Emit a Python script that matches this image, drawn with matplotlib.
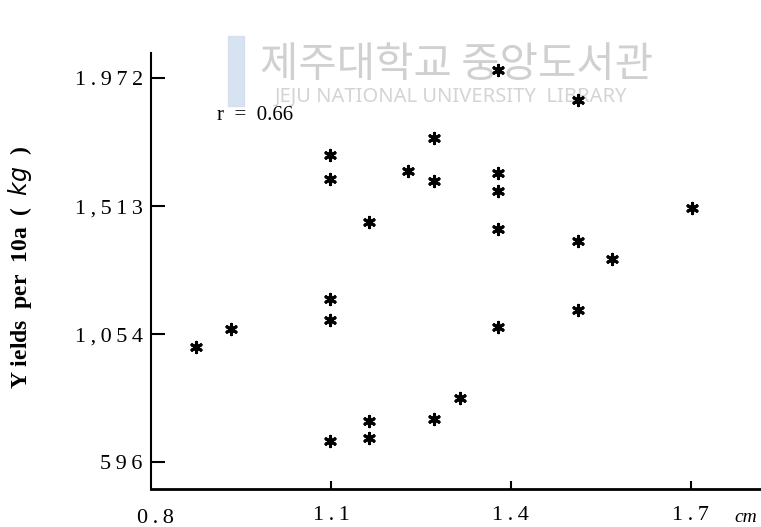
import numpy as np
import matplotlib.pyplot as plt
from matplotlib.patches import Rectangle

# stem diameter (cm) and yield per 10a (kg)
diameter = [0.875, 0.933, 1.098, 1.098, 1.098, 1.098, 1.098,
            1.163, 1.163, 1.163, 1.228, 1.272, 1.272, 1.272, 1.315,
            1.378, 1.378, 1.378, 1.378, 1.378,
            1.512, 1.512, 1.512, 1.568, 1.702]
yields = [1008, 1072, 1697, 1611, 1180, 1105, 671,
          1457, 743, 682, 1640, 1758, 1604, 750, 826,
          2002, 1632, 1568, 1432, 1080,
          1895, 1389, 1141, 1324, 1507]

xticks = [0.8, 1.1, 1.4, 1.7]
xtick_labels = ['0.8', '1.1', '1.4', '1.7']
yticks = [596, 1054, 1513, 1972]
ytick_labels = ['596', '1,054', '1,513', '1.972']
r_value = 0.66

serif = ['Liberation Serif', 'DejaVu Serif']


def spaced(s):
    # old typeset look: a thin space between every character
    return '\u2009'.join(s)


fig = plt.figure(figsize=(7.61, 5.27), dpi=100)
ax = fig.add_axes([151/761, (527-489)/527, (761-151)/761, (489-53)/527])
ax.set_zorder(2)

# faint library watermark behind the plot
fig.patches.append(Rectangle((228/761, 1-106/527), 16/761, 70/527,
                             transform=fig.transFigure, color='#cfdcef',
                             alpha=0.8, zorder=0))
fig.text(457/761, 1-66/527, '제주대학교 중앙도서관', fontsize=30,
         family=['Noto Sans CJK KR', 'DejaVu Sans'], color='#d0d0d0',
         ha='center', va='center', zorder=0)
fig.text(451/761, 1-97/527, 'JEJU NATIONAL UNIVERSITY  LIBRARY',
         fontsize=14.5, family=['Noto Sans', 'DejaVu Sans'], color='#d4d4d4',
         ha='center', va='center', zorder=0)

ax.patch.set_alpha(0)
ax.scatter(diameter, yields, marker=(6, 2, 0), s=55, linewidths=2.2,
           color='black', zorder=3)

ax.set_xlim(0.8, 1.817)
ax.set_ylim(499, 2062)

ax.spines['top'].set_visible(False)
ax.spines['right'].set_visible(False)
ax.spines['left'].set_linewidth(1.5)
ax.spines['bottom'].set_linewidth(2)

ax.set_xticks(xticks[1:])
ax.set_xticklabels([spaced(t) for t in xtick_labels[1:]], fontsize=16,
                   family=serif)
ax.set_yticks(yticks)
ax.set_yticklabels([spaced(t) for t in ytick_labels], fontsize=16,
                   family=serif)
ax.tick_params(axis='y', direction='in', length=10, width=1.5, pad=6)
ax.tick_params(axis='x', direction='in', length=6, width=1.5, pad=12)

# 0.8 sits at the corner, drawn separately
ax.text(0.808, -0.045, spaced(xtick_labels[0]),
        transform=ax.get_xaxis_transform(),
        fontsize=16, family=serif, ha='center', va='top')
ax.text(1.792, -0.045, 'cm', transform=ax.get_xaxis_transform(),
        fontsize=14, family=serif, style='italic', ha='center', va='top')

ax.text(0.91, 1838, f'r  =  {r_value}', fontsize=15, family=serif,
        ha='left', va='center')

fig.text(20/761, 1-268/527, 'Y ields  per  10a  (  $\\it{kg}$  )',
         rotation=90, fontsize=17, family=serif, fontweight='bold',
         ha='center', va='center')

fig.savefig('out.png', dpi=100)
